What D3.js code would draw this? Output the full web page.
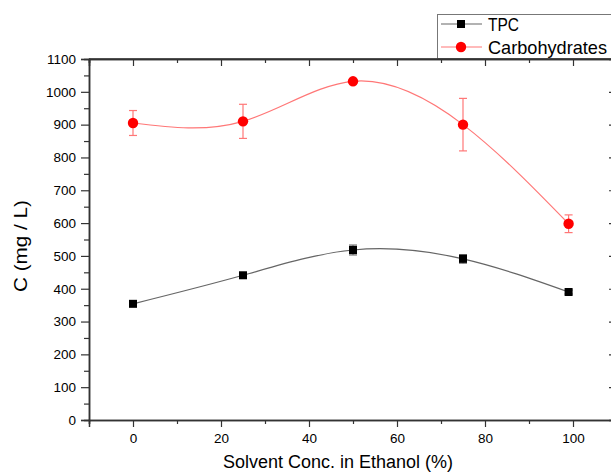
<!DOCTYPE html>
<html><head><meta charset="utf-8">
<script src="https://cdn.jsdelivr.net/npm/d3@7"></script>
<style>
body{margin:0;background:#fff;overflow:hidden}
svg{display:block}
text{font-family:"Liberation Sans",Arial,Helvetica,sans-serif}
</style>
</head><body>
<svg id="chart" width="611" height="472"></svg>
<script>
// ---- data ----
const conc = [0, 25, 50, 75, 99];
const tpc = [354, 441, 518, 491, 390];
const tpcErr = [6, 6, 15, 13, 6];
const carbs = [905, 910, 1032, 900, 598];
const carbsErr = [38, 52, 4, 80, 27];
const seriesNames = ["TPC", "Carbohydrates"];
const xTickValues = [0, 20, 40, 60, 80, 100];
const xMinorTicks = [-10, 10, 30, 50, 70, 90, 110];
const yTickValues = [0, 100, 200, 300, 400, 500, 600, 700, 800, 900, 1000, 1100];
const yMinorTicks = [50, 150, 250, 350, 450, 550, 650, 750, 850, 950, 1050];
const xTitle = "Solvent Conc. in Ethanol (%)";
const yTitle = "C (mg / L)";

const svg = d3.select("#chart");
const x = d3.scaleLinear().domain([-10, 110]).range([89, 617]);
const y = d3.scaleLinear().domain([0, 1100]).range([420, 59]);

const axisColor = "#333";
function styleAxis(g) {
  g.select(".domain").attr("stroke", axisColor).attr("stroke-width", 1.5);
  g.selectAll(".tick line").attr("stroke", axisColor).attr("stroke-width", 1.2);
  g.selectAll(".tick text").attr("fill", "#000").style("font-size", "13.5px")
    .style("font-family", '"Liberation Sans",Arial,sans-serif');
}

// bottom axis
svg.append("g").attr("transform", `translate(0,${y(0)})`)
  .call(d3.axisBottom(x).tickValues(xTickValues).tickSize(7).tickPadding(6).tickFormat(d3.format("d")))
  .call(styleAxis);
svg.append("g").attr("transform", `translate(0,${y(0)})`)
  .call(d3.axisBottom(x).tickValues(xMinorTicks).tickSize(4).tickFormat(""))
  .call(styleAxis);
// top axis (ticks inward)
svg.append("g").attr("transform", `translate(0,${y(1100)})`)
  .call(d3.axisBottom(x).tickValues(xTickValues).tickSize(7).tickFormat(""))
  .call(styleAxis);
svg.append("g").attr("transform", `translate(0,${y(1100)})`)
  .call(d3.axisBottom(x).tickValues(xMinorTicks).tickSize(4).tickFormat(""))
  .call(styleAxis);
// left axis
svg.append("g").attr("transform", `translate(${x(-10)},0)`)
  .call(d3.axisLeft(y).tickValues(yTickValues).tickSize(8).tickPadding(5).tickFormat(d3.format("d")))
  .call(styleAxis);
svg.append("g").attr("transform", `translate(${x(-10)},0)`)
  .call(d3.axisLeft(y).tickValues(yMinorTicks).tickSize(5).tickFormat(""))
  .call(styleAxis);
// right axis (ticks inward)
svg.append("g").attr("transform", `translate(${x(110)},0)`)
  .call(d3.axisLeft(y).tickValues(yTickValues).tickSize(8).tickFormat(""))
  .call(styleAxis);
svg.append("g").attr("transform", `translate(${x(110)},0)`)
  .call(d3.axisLeft(y).tickValues(yMinorTicks).tickSize(5).tickFormat(""))
  .call(styleAxis);

// titles
svg.append("text").attr("x", 338).attr("y", 468).attr("text-anchor", "middle")
  .attr("textLength", 230).attr("lengthAdjust", "spacingAndGlyphs")
  .style("font-size", "18px").attr("fill", "#000").text(xTitle);
svg.append("text").attr("transform", "translate(27,246) rotate(-90)").attr("text-anchor", "middle")
  .attr("textLength", 92).attr("lengthAdjust", "spacingAndGlyphs")
  .style("font-size", "18px").attr("fill", "#000").text(yTitle);

// series
const series = [
  {name: seriesNames[0], vals: tpc, err: tpcErr, line: "#666", mark: "#000", shape: "square"},
  {name: seriesNames[1], vals: carbs, err: carbsErr, line: "#ff7777", mark: "#ff0000", shape: "circle"}
];
const lineGen = d3.line().x(d => x(d[0])).y(d => y(d[1])).curve(d3.curveNatural);

series.forEach(s => {
  const pts = conc.map((c, i) => [c, s.vals[i], s.err[i]]);
  const g = svg.append("g");
  g.append("path").datum(pts).attr("d", lineGen).attr("fill", "none")
    .attr("stroke", s.line).attr("stroke-width", 1.2);
  // error bars
  const eb = g.selectAll(".eb").data(pts).enter().append("g");
  eb.append("line").attr("x1", d => x(d[0])).attr("x2", d => x(d[0]))
    .attr("y1", d => y(d[1] - d[2])).attr("y2", d => y(d[1] + d[2]))
    .attr("stroke", s.line).attr("stroke-width", 1.2);
  [-1, 1].forEach(sg => {
    eb.append("line").attr("x1", d => x(d[0]) - 4).attr("x2", d => x(d[0]) + 4)
      .attr("y1", d => y(d[1] + sg * d[2])).attr("y2", d => y(d[1] + sg * d[2]))
      .attr("stroke", s.line).attr("stroke-width", 1.2);
  });
  if (s.shape === "circle") {
    g.selectAll(".m").data(pts).enter().append("circle")
      .attr("cx", d => x(d[0])).attr("cy", d => y(d[1])).attr("r", 5.2).attr("fill", s.mark);
  } else {
    g.selectAll(".m").data(pts).enter().append("rect")
      .attr("x", d => x(d[0]) - 4).attr("y", d => y(d[1]) - 4).attr("width", 8).attr("height", 8)
      .attr("fill", s.mark);
  }
});

// legend
const lg = svg.append("g");
lg.append("rect").attr("x", 437.5).attr("y", 14.5).attr("width", 200).attr("height", 44)
  .attr("fill", "#fff").attr("stroke", "#777").attr("stroke-width", 1);
const legendRows = [{s: series[0], y: 24, len: 31}, {s: series[1], y: 47, len: 119}];
legendRows.forEach(r => {
  lg.append("line").attr("x1", 441).attr("x2", 482).attr("y1", r.y).attr("y2", r.y)
    .attr("stroke", r.s.line).attr("stroke-width", 1.2);
  if (r.s.shape === "circle") lg.append("circle").attr("cx", 461).attr("cy", r.y).attr("r", 5.2).attr("fill", r.s.mark);
  else lg.append("rect").attr("x", 457).attr("y", r.y - 4).attr("width", 8).attr("height", 8).attr("fill", r.s.mark);
  lg.append("text").attr("x", 488).attr("y", r.y + 7).attr("textLength", r.len).attr("lengthAdjust", "spacingAndGlyphs")
    .style("font-size", "19px").attr("fill", "#000").text(r.s.name);
});
// redraw top frame line over legend bottom
svg.append("line").attr("x1", x(-10)).attr("x2", 611).attr("y1", y(1100)).attr("y2", y(1100))
  .attr("stroke", axisColor).attr("stroke-width", 1.5);
</script>
</body></html>
